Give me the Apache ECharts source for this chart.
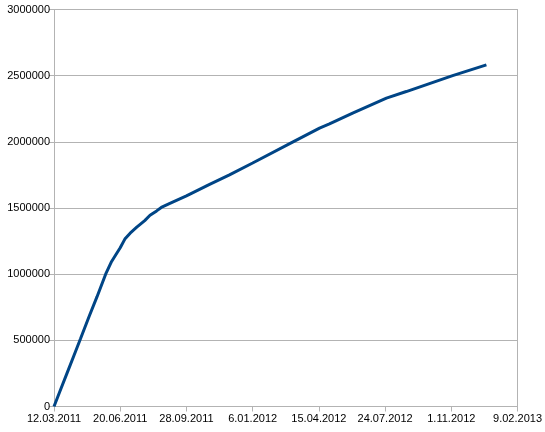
<!DOCTYPE html>
<html><head><meta charset="utf-8">
<script src="https://cdn.jsdelivr.net/npm/echarts@6/dist/echarts.min.js"></script>
<style>html,body{margin:0;padding:0;background:#fff}#c{width:545px;height:432px}</style>
</head><body><div id="c"></div>
<script>
const startDate = '2011-03-12';
const dates = ['2011-03-12','2011-03-22','2011-04-01','2011-04-11','2011-04-21','2011-05-04','2011-05-16','2011-05-29',
  '2011-06-07','2011-06-15','2011-06-20','2011-06-27','2011-07-05','2011-07-15','2011-07-27','2011-08-04','2011-08-14',
  '2011-08-21','2011-09-03','2011-09-28','2011-11-02','2011-12-02','2012-01-06','2012-03-07','2012-04-16','2012-05-01',
  '2012-06-05','2012-07-26','2012-08-25','2012-09-29','2012-11-03','2012-12-24'];
const values = [0,128000,256000,384000,512000,680000,830000,1000000,
  1096000,1160000,1200000,1265000,1310000,1355000,1405000,1445000,1478000,
  1504000,1535000,1592000,1678000,1750000,1840000,2000000,2104000,2135000,
  2217000,2330000,2380000,2440000,2500000,2582000];
const yTicks = [0,500000,1000000,1500000,2000000,2500000,3000000];

const DAY = 86400000;
const t0 = Date.parse(startDate + 'T00:00:00Z');
const dayOf = s => Math.round((Date.parse(s + 'T00:00:00Z') - t0) / DAY);
const fmt = d => {
  const dt = new Date(t0 + d * DAY);
  return dt.getUTCDate() + '.' + String(dt.getUTCMonth() + 1).padStart(2, '0') + '.' + dt.getUTCFullYear();
};
const data = dates.map((s, i) => [dayOf(s), values[i]]);

const chart = echarts.init(document.getElementById('c'), null, {renderer: 'canvas'});
const grey = '#b3b3b3';
const font = {color: '#000', fontFamily: 'Liberation Sans, Arial, sans-serif', fontSize: 11};
chart.setOption({
  animation: false,
  grid: {left: 54, right: 27, top: 9.5, bottom: 25.5, containLabel: false},
  xAxis: {
    type: 'value', min: 0, max: 700, interval: 100,
    axisLine: {show: true, lineStyle: {color: grey, width: 1}},
    axisTick: {show: true, length: 5, inside: false, lineStyle: {color: grey}},
    splitLine: {show: false},
    axisLabel: Object.assign({margin: 7, formatter: v => fmt(v), showMaxLabel: true, showMinLabel: true}, font)
  },
  yAxis: [{
    type: 'value', min: 0, max: yTicks[yTicks.length - 1], interval: 500000,
    axisLine: {show: true, lineStyle: {color: grey, width: 1}},
    axisTick: {show: true, length: 5, lineStyle: {color: grey}},
    splitLine: {show: true, lineStyle: {color: grey, width: 1}},
    axisLabel: Object.assign({margin: 4, formatter: v => String(v)}, font)
  }, {
    type: 'value', min: 0, max: yTicks[yTicks.length - 1], interval: 500000, position: 'right',
    axisLine: {show: true, lineStyle: {color: grey, width: 1}},
    axisTick: {show: false}, axisLabel: {show: false}, splitLine: {show: false}
  }],
  series: [{
    type: 'line', data: data, showSymbol: false, symbol: 'none',
    lineStyle: {color: '#004586', width: 3}, itemStyle: {color: '#004586'}
  }]
});
</script></body></html>
